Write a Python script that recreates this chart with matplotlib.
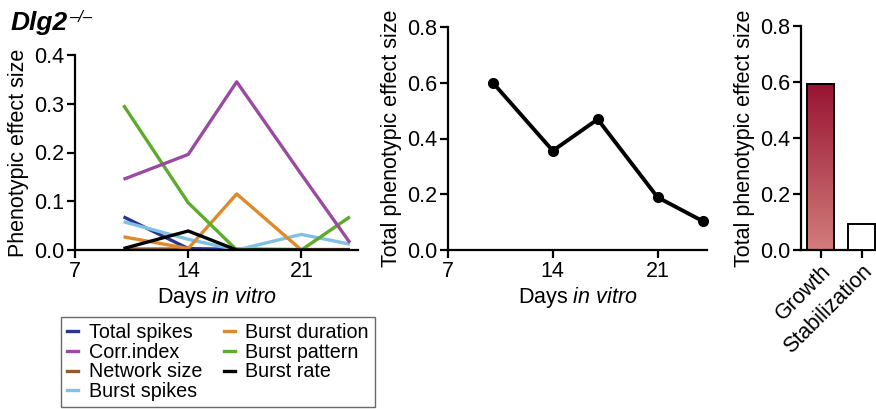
import numpy as np
import matplotlib
matplotlib.use("Agg")
import matplotlib.pyplot as plt
from matplotlib.lines import Line2D
from matplotlib.colors import LinearSegmentedColormap

plt.rcParams['font.family'] = ['Liberation Sans', 'DejaVu Sans']
plt.rcParams['mathtext.fontset'] = 'custom'
plt.rcParams['mathtext.rm'] = 'Liberation Sans'
plt.rcParams['mathtext.it'] = 'Liberation Sans:italic'

# ---- data ----
days = [10, 14, 17, 21, 24]
series_names = ["Total spikes", "Corr.index", "Network size", "Burst spikes",
                "Burst duration", "Burst pattern", "Burst rate"]
total_spikes = [0.068, 0.003, 0.0, 0.0, 0.0]
corr_index = [0.145, 0.196, 0.345, 0.155, 0.015]
network_size = [0.002, 0.002, 0.002, 0.001, 0.001]
burst_spikes = [0.058, 0.022, 0.0, 0.032, 0.012]
burst_duration = [0.027, 0.003, 0.115, 0.0, 0.0]
burst_pattern = [0.297, 0.097, 0.0, 0.0, 0.068]
burst_rate = [0.003, 0.039, 0.0, 0.0, 0.0]

total_effect = [0.60, 0.356, 0.469, 0.189, 0.104]

bar_categories = ["Growth", "Stabilization"]
bar_values = [0.594, 0.093]

colors = {
    "Total spikes": "#2A3592",
    "Corr.index": "#9A4BA1",
    "Network size": "#8B5E2E",
    "Burst spikes": "#80C0E2",
    "Burst duration": "#E0892A",
    "Burst pattern": "#5DAA2C",
    "Burst rate": "#000000",
}
values = {
    "Total spikes": total_spikes,
    "Corr.index": corr_index,
    "Network size": network_size,
    "Burst spikes": burst_spikes,
    "Burst duration": burst_duration,
    "Burst pattern": burst_pattern,
    "Burst rate": burst_rate,
}
draw_order = ["Network size", "Total spikes", "Burst spikes", "Burst duration",
              "Burst pattern", "Corr.index", "Burst rate"]

FS = 15.5
W, H = 876, 409
fig = plt.figure(figsize=(W / 100, H / 100), dpi=100)


def style(ax):
    for s in ["top", "right"]:
        ax.spines[s].set_visible(False)
    for s in ["left", "bottom"]:
        ax.spines[s].set_linewidth(1.6)
    ax.tick_params(width=1.6, length=5.5, labelsize=FS, direction="out", pad=2.5)


def ax_rect(l, r, t, b):
    return [l / W, 1 - b / H, (r - l) / W, (b - t) / H]


xlabel = r"Days $\mathit{in\ vitro}$"

# ---- panel 1 ----
ax1 = fig.add_axes(ax_rect(75, 358, 55, 250))
for name in draw_order:
    ax1.plot(days, values[name], color=colors[name], lw=2.4, solid_capstyle="butt")
ax1.set_xlim(7, 24.5)
ax1.set_ylim(0, 0.4)
ax1.set_xticks([7, 14, 21])
ax1.set_yticks([0, 0.1, 0.2, 0.3, 0.4])
ax1.set_yticklabels(["0.0", "0.1", "0.2", "0.3", "0.4"])
ax1.set_ylabel("Phenotypic effect size", fontsize=FS, labelpad=3)
ax1.set_xlabel(xlabel, fontsize=FS, labelpad=2)
style(ax1)

handles = [Line2D([], [], color=colors[n], lw=2.4) for n in series_names]
leg = fig.legend(handles, series_names, ncol=2, fontsize=14.2,
                 loc="upper left", bbox_to_anchor=(61 / W, 1 - 317 / H),
                 frameon=True, fancybox=False, edgecolor="#444444",
                 handlelength=0.55, handletextpad=0.55, columnspacing=1.1,
                 labelspacing=0.04, borderpad=0.3, borderaxespad=0)
leg.get_frame().set_linewidth(1.0)

# ---- panel 2 ----
ax2 = fig.add_axes(ax_rect(448, 707, 27, 250))
ax2.plot(days, total_effect, color="black", lw=2.8, marker="o", ms=7, clip_on=False)
ax2.set_xlim(7, 24.3)
ax2.set_ylim(0, 0.8)
ax2.set_xticks([7, 14, 21])
ax2.set_yticks([0, 0.2, 0.4, 0.6, 0.8])
ax2.set_yticklabels(["0.0", "0.2", "0.4", "0.6", "0.8"])
ax2.set_ylabel("Total phenotypic effect size", fontsize=FS, labelpad=3)
ax2.set_xlabel(xlabel, fontsize=FS, labelpad=2)
style(ax2)

# ---- panel 3 ----
ax3 = fig.add_axes(ax_rect(801, 876, 26, 250))
x = np.arange(len(bar_categories))
bars = ax3.bar(x, bar_values, width=0.67, color=["none", "white"],
               edgecolor="black", linewidth=1.4, zorder=3)
b = bars[0]
grad = np.linspace(0, 1, 256).reshape(-1, 1)
cmap = LinearSegmentedColormap.from_list("g", ["#D27C7B", "#981432"])
bx, by = b.get_x(), b.get_y()
im = ax3.imshow(grad, cmap=cmap, aspect="auto", origin="lower",
                extent=[bx, bx + b.get_width(), by, by + b.get_height()], zorder=2)
im.set_clip_path(b)
ax3.set_xlim(-0.48, 1.35)
ax3.set_ylim(0, 0.8)
ax3.set_xticks(x)
ax3.set_xticklabels(bar_categories, rotation=45, ha="right", rotation_mode="anchor")
ax3.set_yticks([0, 0.2, 0.4, 0.6, 0.8])
ax3.set_yticklabels(["0.0", "0.2", "0.4", "0.6", "0.8"])
ax3.set_ylabel("Total phenotypic effect size", fontsize=FS, labelpad=3)
style(ax3)

# ---- title ----
t = fig.text(11 / W, 1 - 30 / H, "Dlg2", fontsize=19, fontweight="bold",
             fontstyle="italic", ha="left", va="baseline")
plt.annotate("\u2013/\u2013", xy=(1, 1), xycoords=t, xytext=(0.5, 1),
             textcoords="offset points", fontsize=12, fontstyle="italic",
             ha="left", va="top", annotation_clip=False)

fig.savefig("out.png", dpi=100)
